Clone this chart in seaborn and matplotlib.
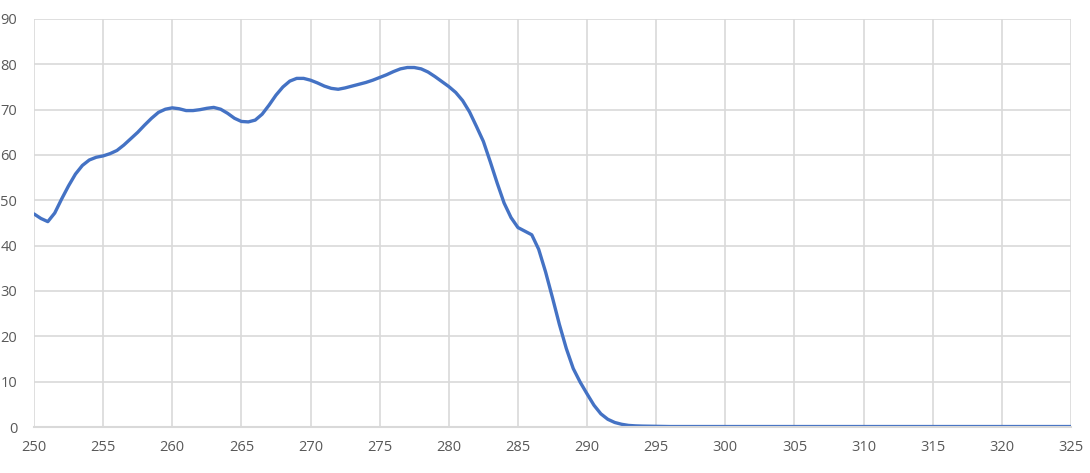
import numpy as np
import pandas as pd
import seaborn as sns
import matplotlib
matplotlib.use("Agg")
import matplotlib.pyplot as plt

# wavelength (nm) and values, half-nm steps where the curve bends
wl_fine = np.arange(250, 294, 0.5)
val_fine = [47.0, 46.0, 45.3, 47.2, 50.3, 53.2, 55.8, 57.7, 58.9, 59.5,
            59.8, 60.3, 61.0, 62.2, 63.6, 65.0, 66.6, 68.1, 69.4, 70.1,
            70.4, 70.2, 69.8, 69.8, 70.0, 70.3, 70.5, 70.1, 69.2, 68.1,
            67.4, 67.3, 67.7, 69.0, 71.0, 73.2, 75.0, 76.3, 76.9, 76.9,
            76.5, 75.9, 75.2, 74.7, 74.5, 74.8, 75.2, 75.6, 76.0, 76.5,
            77.1, 77.7, 78.4, 79.0, 79.3, 79.3, 79.0, 78.3, 77.3, 76.2,
            75.1, 73.8, 72.0, 69.5, 66.3, 63.0, 58.5, 53.8, 49.4, 46.2,
            44.0, 43.2, 42.4, 39.2, 34.2, 28.5, 22.6, 17.3, 12.9, 9.9,
            7.3, 4.8, 2.9, 1.7, 1.0, 0.6, 0.35, 0.25]
wl_tail = np.arange(294, 326)
val_tail = [0.2, 0.15] + [0.1] * 30

df = pd.DataFrame({"wavelength": np.concatenate([wl_fine, wl_tail]),
                   "value": val_fine + val_tail})

sns.set_theme(style="white")
plt.rcParams['font.family'] = ['Open Sans', 'DejaVu Sans']

fig = plt.figure(figsize=(10.9, 4.73), dpi=100)
ax = fig.add_axes([34 / 1090, 46 / 473, 1037 / 1090, 408 / 473])

sns.lineplot(data=df, x="wavelength", y="value", ax=ax, color="#4472C4",
             linewidth=2.4, solid_joinstyle="round", solid_capstyle="round")

ax.set_xlim(250, 325)
ax.set_ylim(0, 90)
ax.set_xticks(np.arange(250, 326, 5))
ax.set_yticks(np.arange(0, 91, 10))
ax.grid(True, color="#d9d9d9", linewidth=1.2)
ax.set_axisbelow(True)
for side in ["top", "right", "left"]:
    ax.spines[side].set_visible(False)
ax.spines["bottom"].set_color("#d9d9d9")
ax.spines["bottom"].set_linewidth(1.5)
ax.tick_params(axis="both", length=0, labelsize=10.5, labelcolor="#595959")
ax.tick_params(axis="x", pad=9)
ax.tick_params(axis="y", pad=12)
ax.set_xlabel("")
ax.set_ylabel("")

fig.savefig("out.png", dpi=100)
